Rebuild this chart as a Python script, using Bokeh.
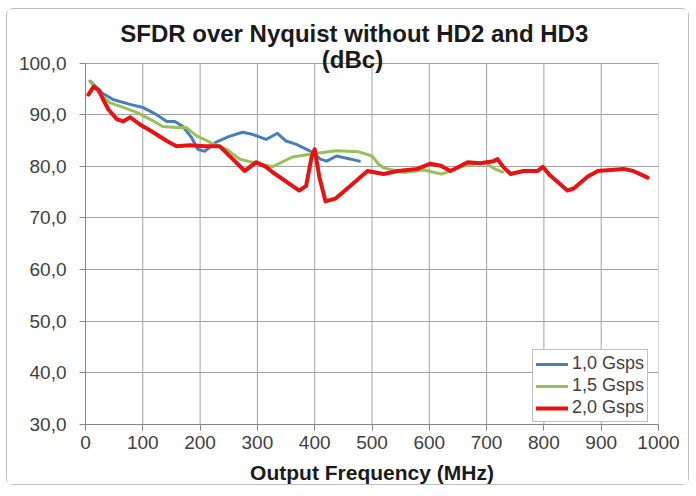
from bokeh.plotting import figure
from bokeh.models import Range1d, Label, Legend, LegendItem, FixedTicker
from bokeh.embed import file_html
from bokeh.resources import INLINE

# ---------------- data ----------------
title_line1 = "SFDR over Nyquist without HD2 and HD3"
title_line2 = "(dBc)"
x_axis_title = "Output Frequency (MHz)"

x_ticks = [0, 100, 200, 300, 400, 500, 600, 700, 800, 900, 1000]
y_ticks = [30, 40, 50, 60, 70, 80, 90, 100]
y_tick_labels = ["30,0", "40,0", "50,0", "60,0", "70,0", "80,0", "90,0", "100,0"]

series_names = ["1,0 Gsps", "1,5 Gsps", "2,0 Gsps"]

freq_1g0 = [8, 29, 49, 78, 100, 124, 142, 156, 170, 185, 196, 208, 228, 251, 274,
            291, 315, 335, 350, 367, 395, 410, 421, 438, 454, 478]
sfdr_1g0 = [96.5, 94.2, 92.9, 92.0, 91.4, 90.0, 88.7, 88.7, 87.7, 85.6, 83.3, 82.9,
            84.7, 85.8, 86.6, 86.2, 85.2, 86.4, 84.9, 84.3, 82.8, 81.4, 81.0, 82.0,
            81.6, 81.0]

freq_1g5 = [8, 26, 43, 66, 90, 113, 135, 159, 176, 194, 213, 222, 246, 269, 291,
            326, 361, 395, 437, 477, 500, 511, 520, 557, 590, 621, 662, 697, 714, 728]
sfdr_1g5 = [96.4, 93.9, 92.3, 91.4, 90.4, 89.1, 87.7, 87.5, 87.5, 85.9, 84.9, 84.3,
            83.3, 81.4, 80.8, 79.9, 81.8, 82.4, 83.0, 82.8, 82.0, 80.5, 79.7, 78.8,
            79.3, 78.5, 80.1, 80.8, 79.5, 78.9]

freq_2g0 = [5, 14, 23, 31, 40, 55, 66, 78, 95, 118, 142, 159, 182, 208, 234, 257,
            278, 298, 315, 326, 373, 385, 395, 400, 408, 419, 437, 465, 492, 520,
            545, 579, 602, 620, 637, 667, 689, 712, 719, 729, 742, 764, 789, 798,
            811, 841, 852, 876, 894, 939, 956, 981]
sfdr_2g0 = [93.9, 95.4, 94.8, 92.9, 91.0, 89.1, 88.7, 89.5, 88.1, 86.6, 84.9, 83.9,
            84.1, 83.9, 83.9, 81.4, 79.1, 80.8, 79.9, 78.9, 75.3, 76.2, 82.0, 83.3,
            78.0, 73.2, 73.8, 76.5, 79.1, 78.5, 79.1, 79.5, 80.5, 80.1, 79.1, 80.8,
            80.6, 81.0, 81.4, 79.9, 78.5, 79.1, 79.1, 79.9, 78.2, 75.3, 75.7, 78.0,
            79.1, 79.5, 79.1, 77.8]

# ---------------- styling ----------------
FONT = "Liberation Sans"
GRID = "#A3A3A3"
AXIS = "#868686"
TEXT = "#404040"
colors = ["#4A7EBB", "#98C05A", "#E81212"]
widths = [3, 3, 4]

y_min, y_max = y_ticks[0], y_ticks[-1]
y_view_top = 109.4  # extra room above the plot for the two-line title

p = figure(width=683, height=477, output_backend="svg", toolbar_location=None,
           x_range=Range1d(x_ticks[0], x_ticks[-1]), y_range=Range1d(y_min, y_view_top),
           min_border_left=78, min_border_right=32, min_border_top=5,
           min_border_bottom=58)
p.styles = {"border": "1px solid #BFBFBF", "border-radius": "7px",
            "margin-left": "6px", "margin-top": "8px"}
p.outline_line_color = None
p.background_fill_color = "white"
p.border_fill_color = "white"

# axes
p.xaxis.ticker = FixedTicker(ticks=x_ticks)
p.yaxis.ticker = FixedTicker(ticks=y_ticks)
p.yaxis.bounds = (y_min, y_max)
p.yaxis.major_label_overrides = {t: l for t, l in zip(y_ticks, y_tick_labels)}
for ax in (p.xaxis, p.yaxis):
    ax.axis_line_color = AXIS
    ax.major_tick_line_color = AXIS
    ax.minor_tick_line_color = None
    ax.major_tick_in = 0
    ax.major_tick_out = 6
    ax.major_label_text_font = FONT
    ax.major_label_text_font_size = "19px"
    ax.major_label_text_color = TEXT
p.yaxis.major_label_standoff = 13
p.xaxis.major_label_standoff = 5
p.xaxis.axis_label = x_axis_title
p.xaxis.axis_label_text_font = FONT
p.xaxis.axis_label_text_font_style = "bold"
p.xaxis.axis_label_text_font_size = "21px"
p.xaxis.axis_label_text_color = "#1A1A1A"
p.xaxis.axis_label_standoff = 9

# grid: horizontal lines from the axis grid, vertical lines limited to the value span
p.ygrid.ticker = FixedTicker(ticks=y_ticks)
p.ygrid.grid_line_color = GRID
p.xgrid.visible = False
p.segment(x0=x_ticks, y0=[y_min] * len(x_ticks), x1=x_ticks, y1=[y_max] * len(x_ticks),
          line_color=GRID, line_width=1)

# series
series = [(freq_1g0, sfdr_1g0), (freq_1g5, sfdr_1g5), (freq_2g0, sfdr_2g0)]
renderers = []
for (xs, ys), c, w in zip(series, colors, widths):
    r = p.line(xs, ys, line_color=c, line_width=w, line_join="round", line_cap="round")
    renderers.append(r)

legend = Legend(items=[LegendItem(label=n, renderers=[r]) for n, r in zip(series_names, renderers)],
                location=(447, 2))
legend.label_text_font = FONT
legend.label_text_font_size = "18px"
legend.label_text_line_height = 1.0
legend.label_text_color = TEXT
legend.glyph_width = 32
legend.glyph_height = 16
legend.label_height = 20
legend.spacing = 1
legend.padding = 3
legend.margin = 0
legend.label_standoff = 4
legend.border_line_color = "#808080"
legend.background_fill_alpha = 1
p.add_layout(legend)

# two-line title, the second line overlapping the top of the plot as in the reference
p.add_layout(Label(x=469, y=105.76, text=title_line1, text_align="center",
                   text_baseline="middle", text_font=FONT, text_font_style="bold",
                   text_font_size="24px", text_color="#1A1A1A"))
p.add_layout(Label(x=466, y=100.77, text=title_line2, text_align="center",
                   text_baseline="middle", text_font=FONT, text_font_style="bold",
                   text_font_size="24px", text_color="#1A1A1A"))

open("out.html", "w").write(file_html(p, INLINE))
